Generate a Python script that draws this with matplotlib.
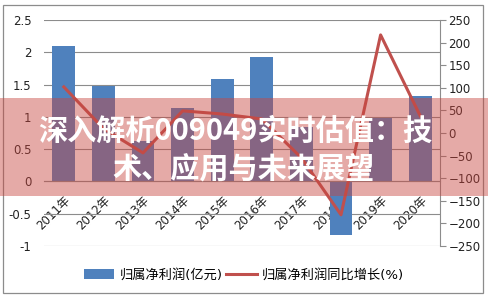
import numpy as np
import matplotlib
matplotlib.use("Agg")
import matplotlib.pyplot as plt
from matplotlib.patches import Rectangle, Patch
from matplotlib.lines import Line2D

plt.rcParams["font.family"] = ["DejaVu Sans", "Noto Sans CJK SC"]

years = ["2011年", "2012年", "2013年", "2014年", "2015年",
         "2016年", "2017年", "2018年", "2019年", "2020年"]
profit = [2.1, 1.48, 0.63, 1.14, 1.59, 1.92, 0.85, -0.83, 0.98, 1.33]
growth = [102, 10, -44, 49, 42, 31, -55, -181, 217, 38]

bar_label = "归属净利润(亿元)"
line_label = "归属净利润同比增长(%)"
title_lines = ["深入解析009049实时估值：技", "术、应用与未来展望"]

BLUE = "#4F81BD"
RED = "#C0504D"
GRID = "#8c8c8c"

fig = plt.figure(figsize=(4.88, 2.97), dpi=100)
ax = fig.add_axes([44 / 488, 51 / 297, 396 / 488, 226 / 297])
x = np.arange(len(years))

ax.bar(x, profit, width=0.58, color=BLUE, zorder=2)
ax.set_xlim(-0.5, len(years) - 0.5)
ax.set_ylim(-1, 2.5)
ax.set_yticks(np.arange(-1, 2.51, 0.5))
ax.set_yticklabels(["-1", "-0.5", "0", "0.5", "1", "1.5", "2", "2.5"])
ax.yaxis.grid(True, color=GRID, linewidth=0.8)
ax.set_axisbelow(True)
ax.tick_params(axis="y", length=0, pad=9, labelsize=8.5, labelcolor="#222222")

# category axis sits on the zero line
ax.spines["bottom"].set_position(("data", 0))
ax.spines["bottom"].set_color(GRID)
ax.spines["bottom"].set_linewidth(0.8)
for s in ["left", "top", "right"]:
    ax.spines[s].set_visible(False)
ax.set_xticks(x)
ax.set_xticklabels(years, rotation=45, ha="right", va="top",
                   rotation_mode="anchor", fontsize=8.5, color="#222222")
ax.tick_params(axis="x", length=0, pad=9)

ax2 = ax.twinx()
ax2.plot(x, growth, color=RED, linewidth=2.2, zorder=3)
ax2.set_ylim(-250, 250)
ax2.set_yticks(np.arange(-250, 251, 50))
for s in ["left", "top", "bottom"]:
    ax2.spines[s].set_visible(False)
ax2.spines["right"].set_color(GRID)
ax2.spines["right"].set_linewidth(0.8)
ax2.tick_params(axis="y", length=4, width=0.8, color=GRID, pad=2,
                labelsize=8.5, labelcolor="#222222")

handles = [Patch(facecolor=BLUE, edgecolor="none"),
           Line2D([0], [0], color=RED, linewidth=2.2)]
fig.legend(handles, [bar_label, line_label], loc="center",
           bbox_to_anchor=(0.5, 22 / 297), ncol=2, frameon=False,
           fontsize=9.5, handlelength=2.3, handleheight=0.7,
           handletextpad=0.4, columnspacing=0.3)

# outer chart border
fig.patches.append(Rectangle((3 / 488, 4 / 297), 480 / 488, 288 / 297,
                             transform=fig.transFigure, fill=False,
                             edgecolor="#8c8c8c", linewidth=0.9, zorder=1))

# translucent banner with headline
fig.patches.append(Rectangle((0, 101 / 297), 1, 98 / 297,
                             transform=fig.transFigure, facecolor="#C8463F",
                             alpha=0.46, edgecolor="none", zorder=5))
fig.text(235 / 488, 1 - 131 / 297, title_lines[0], ha="center", va="center",
         color="white", fontsize=21, fontweight="bold",
         family=["Noto Sans CJK SC"], zorder=6)
fig.text(243 / 488, 1 - 168 / 297, title_lines[1], ha="center", va="center",
         color="white", fontsize=21, fontweight="bold",
         family=["Noto Sans CJK SC"], zorder=6)

fig.savefig("out.png", dpi=100)
